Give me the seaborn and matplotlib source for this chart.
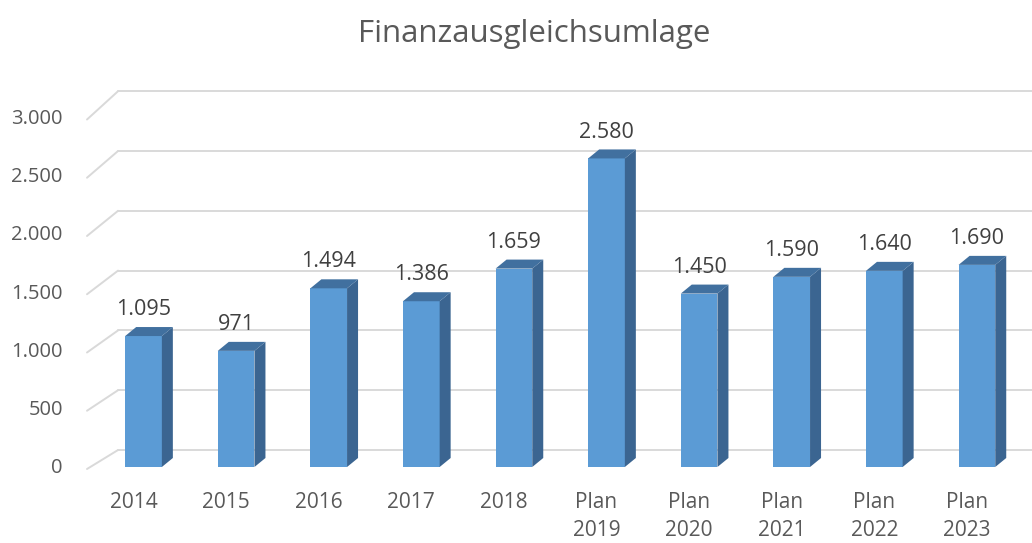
import matplotlib
matplotlib.use("Agg")
import matplotlib.pyplot as plt
from matplotlib.patches import Polygon
from matplotlib.lines import Line2D
from matplotlib.transforms import IdentityTransform, ScaledTranslation
import seaborn as sns

# data
years = ["2014", "2015", "2016", "2017", "2018",
         "Plan\n2019", "Plan\n2020", "Plan\n2021", "Plan\n2022", "Plan\n2023"]
values = [1095, 971, 1494, 1386, 1659, 2580, 1450, 1590, 1640, 1690]
yticks = [0, 500, 1000, 1500, 2000, 2500, 3000]

front_col = "#5B9BD5"
side_col = "#3B6591"
top_col = "#41709F"
grid_col = "#D9D9D9"
text_col = "#595959"

sns.set_style("white")
plt.rcParams["font.family"] = ["Open Sans", "DejaVu Sans"]

fig = plt.figure(figsize=(10.32, 5.43), dpi=100)
W, H = 1032, 543
pos = [85 / W, (H - 480) / H, 947 / W, 400 / H]

# front axes only carries the y tick labels (front edge of the side wall)
ax_front = fig.add_axes(pos)
ax_front.set_ylim(-120.2, 3313.3)
ax_front.set_xlim(0, 1)
ax_front.set_yticks(yticks)
ax_front.set_yticklabels([f"{v:,}".replace(",", ".") for v in yticks])
ax_front.tick_params(axis="y", length=0, pad=16, labelsize=14.5, labelcolor=text_col)
ax_front.set_xticks([])
for s in ax_front.spines.values():
    s.set_visible(False)
ax_front.patch.set_alpha(0)

# main axes with the bars
ax = fig.add_axes(pos)
ax.patch.set_alpha(0)
sns.barplot(x=years, y=values, ax=ax, color=front_col, saturation=1,
            width=0.396, linewidth=0, zorder=3)
ax.set_xlim(-0.632, 9.595)
ax.set_ylim(-108.7, 3235.8)
ax.set_yticks([])
ax.set_xlabel("")
ax.set_ylabel("")
for s in ax.spines.values():
    s.set_visible(False)
ax.tick_params(axis="x", length=0, pad=9, labelsize=15, labelcolor=text_col)
shift = ScaledTranslation(-10 / 100, 0, fig.dpi_scale_trans)
for t in ax.get_xticklabels():
    t.set_linespacing(1.42)
    t.set_verticalalignment("top")
    t.set_transform(t.get_transform() + shift)

# back wall gridlines + diagonals on the side wall
back_dy = 17 / 0.1196
for v in yticks:
    ax.plot([-0.275, 9.595 + 0.5], [v + back_dy, v + back_dy], color=grid_col,
            lw=1.4, zorder=1, clip_on=False)
    p_back = ax.transData.transform((-0.275, v + back_dy))
    p_front = ax_front.transData.transform((0, v))
    p_front = (87 - 85 + ax_front.transAxes.transform((0, 0))[0], p_front[1] - 3)
    fig.add_artist(Line2D([p_front[0], p_back[0]], [p_front[1], p_back[1]],
                          color=grid_col, lw=1.4, transform=IdentityTransform()))

# 3d faces of the bars
dx = 11 / 92.6
dy = 9 / 0.1196
for p in list(ax.patches):
    x0 = p.get_x()
    x1 = x0 + p.get_width()
    h = p.get_height()
    side = Polygon([(x1, 0), (x1 + dx, dy), (x1 + dx, h + dy), (x1, h)],
                   closed=True, facecolor=side_col, edgecolor="none", zorder=3)
    top = Polygon([(x0, h), (x0 + dx, h + dy), (x1 + dx, h + dy), (x1, h)],
                  closed=True, facecolor=top_col, edgecolor="none", zorder=3)
    ax.add_patch(side)
    ax.add_patch(top)
    ax.annotate(f"{int(h):,}".replace(",", "."), (x0 + p.get_width() / 2, h),
                xytext=(0, 19), textcoords="offset points", ha="center", va="center",
                fontsize=15.5, color="#404040")

fig.text(534 / W, 1 - 34 / H, "Finanzausgleichsumlage", ha="center", va="center",
         fontsize=22.5, color=text_col)

fig.savefig("out.png", dpi=100)
